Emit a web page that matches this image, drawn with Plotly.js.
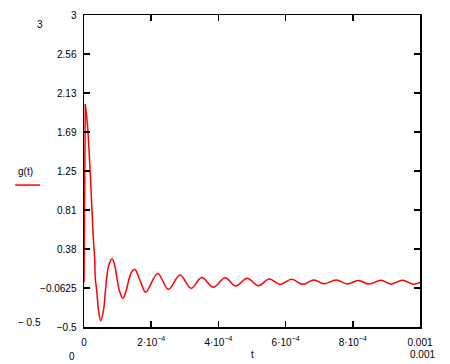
<!DOCTYPE html>
<html>
<head>
<meta charset="utf-8">
<script src="https://cdn.plot.ly/plotly-3.0.1.min.js"></script>
<style>html,body{margin:0;padding:0;background:#fff;}#chart{width:450px;height:364px;}</style>
</head>
<body>
<div id="chart"></div>
<script>
// time in microseconds, g(t) values
var tJump = [0, 3.9];
var gJump = [0, 2.0];

var tUs = [3.9, 6.8, 9.8, 12.8, 15.8, 18.8, 21.7, 24.7, 27.7, 31.8, 33.6, 38.0, 43.8, 50.0,
  58.6, 63.4, 68.5, 73.5, 83.5, 91.4, 98.2, 105.1, 115.5, 125.9, 133.0, 140.8, 150.9,
  162.8, 170.5, 183.6, 219.3, 250.9, 285.7, 318.5, 350.3, 384.8, 420.5, 450.9, 486.0,
  518.8, 551.5, 583.3, 618.2, 650.9, 684.5, 714.3, 750.9, 782.7, 816.4, 848.2, 883.9,
  913.7, 947.3, 981.3, 1000];
var gVals = [2.00, 1.90, 1.79, 1.63, 1.43, 1.21, 0.97, 0.74, 0.50, 0.27, 0.05, -0.10, -0.33, -0.43,
  -0.30, -0.107, 0.08, 0.19, 0.265, 0.19, 0.042, -0.088, -0.177, -0.088, 0.024, 0.109, 0.147,
  0.061, -0.014, -0.11, 0.10, -0.077, 0.083, -0.066, 0.055, -0.055, 0.053, -0.04, 0.046,
  -0.037, 0.038, -0.022, 0.035, -0.021, 0.027, -0.015, 0.028, -0.017, 0.022, -0.018, 0.024,
  -0.018, 0.024, -0.02, 0.003];

var xTickVals = [0, 200, 400, 600, 800, 1000];
var xTickText = ["0", "2·10<sup>−4</sup>", "4·10<sup>−4</sup>", "6·10<sup>−4</sup>", "8·10<sup>−4</sup>", "0.001"];
var yTickVals = [3, 2.5625, 2.125, 1.6875, 1.25, 0.8125, 0.375, -0.0625, -0.5];
var yTickText = ["3", "2.56", "2.13", "1.69", "1.25", "0.81", "0.38", "−0.0625", "−0.5"];

var FONT = {family: "Liberation Sans, Arial, sans-serif", size: 10, color: "#000"};

var traces = [
  {x: tJump, y: gJump, type: "scatter", mode: "lines", line: {color: "#ff0000", width: 1.5}, hoverinfo: "skip"},
  {x: tUs, y: gVals, type: "scatter", mode: "lines", line: {color: "#ff0000", width: 1.5, shape: "spline", smoothing: 1}}
];

function ann(text, x, y) {
  return {text: text, x: x, y: y, xref: "paper", yref: "paper", showarrow: false,
          xanchor: "center", yanchor: "middle", font: FONT};
}

var layout = {
  width: 450, height: 364,
  margin: {l: 84, r: 30, t: 15, b: 37},
  paper_bgcolor: "#fff", plot_bgcolor: "#fff",
  showlegend: false,
  font: FONT,
  xaxis: {
    range: [0, 1000], showgrid: false, zeroline: false,
    showline: true, linecolor: "#000", linewidth: 1.5, mirror: "ticks",
    ticks: "inside", ticklen: 6, tickwidth: 1.5, tickcolor: "#000",
    tickvals: xTickVals, ticktext: xTickText, tickfont: FONT,
    ticklabelstandoff: 5
  },
  yaxis: {
    range: [-0.5, 3], showgrid: false, zeroline: false,
    showline: true, linecolor: "#000", linewidth: 1.5, mirror: "ticks",
    ticks: "inside", ticklen: 6, tickwidth: 1.5, tickcolor: "#000",
    tickvals: yTickVals, ticktext: yTickText, tickfont: FONT,
    ticklabelstandoff: 4
  },
  annotations: [
    ann("3", -0.131, 0.971),
    ann("− 0.5", -0.161, 0.013),
    ann("0", -0.036, -0.093),
    ann("t", 0.5, -0.087),
    ann("0.001", 1.006, -0.089),
    ann("g(t)", -0.173, 0.50)
  ],
  shapes: [
    {type: "line", xref: "paper", yref: "paper", x0: -0.205, x1: -0.131, y0: 0.455, y1: 0.455,
     line: {color: "#ff0000", width: 1.5}}
  ]
};

Plotly.newPlot("chart", traces, layout, {staticPlot: true, displayModeBar: false});
</script>
</body>
</html>
